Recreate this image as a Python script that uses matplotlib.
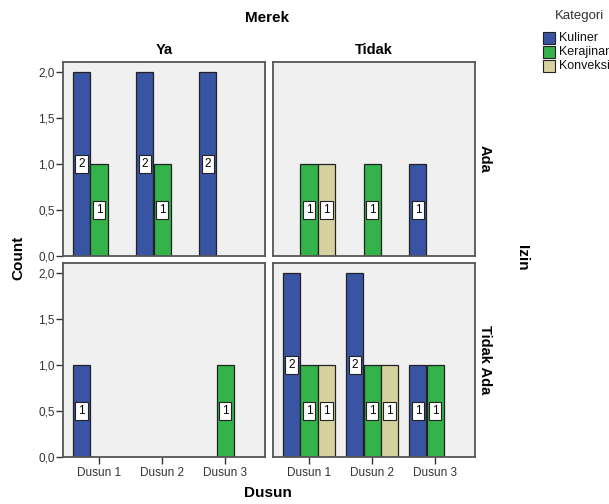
import matplotlib
matplotlib.use('Agg')
import matplotlib.pyplot as plt
import numpy as np

plt.rcParams['font.family'] = ['Liberation Sans', 'DejaVu Sans']

dusun = ['Dusun 1', 'Dusun 2', 'Dusun 3']
kategori = ['Kuliner', 'Kerajinan', 'Konveksi']
merek = ['Ya', 'Tidak']
izin = ['Ada', 'Tidak Ada']

# counts[izin][merek] -> list per kategori of counts per dusun
ada_ya = [[2, 2, 2], [1, 1, 0], [0, 0, 0]]
ada_tidak = [[0, 0, 1], [1, 1, 0], [1, 0, 0]]
tidakada_ya = [[1, 0, 0], [0, 0, 1], [0, 0, 0]]
tidakada_tidak = [[2, 2, 1], [1, 1, 1], [1, 1, 0]]
counts = [[ada_ya, ada_tidak], [tidakada_ya, tidakada_tidak]]

colors = ['#3a54a4', '#33b349', '#d6d19e']
yticks = [0.0, 0.5, 1.0, 1.5, 2.0]

W, H = 609, 504
fig = plt.figure(figsize=(W / 100, H / 100), dpi=100)

lefts = [63, 273]
tops = [62, 263]
pw, ph = 202, 194
width = 0.27
offsets = [-0.275, 0.0, 0.275]
x = np.arange(len(dusun))

for r in range(2):
    for c in range(2):
        ax = fig.add_axes([lefts[c] / W, (H - tops[r] - ph) / H, pw / W, ph / H])
        ax.set_facecolor('#f0f0f0')
        data = counts[r][c]
        for k in range(len(kategori)):
            for i in range(len(dusun)):
                v = data[k][i]
                if v == 0:
                    continue
                xi = x[i] + offsets[k]
                ax.bar(xi, v, width=width, color=colors[k], edgecolor='#222222',
                       linewidth=0.9, zorder=2)
                ax.text(xi, v / 2, str(v), ha='center', va='center', fontsize=8.5,
                        zorder=3,
                        bbox=dict(boxstyle='square,pad=0.25', fc='white',
                                  ec='#222222', lw=0.8))
        ax.set_xlim(-0.57, 2.63)
        ax.set_ylim(0, 2.11)
        for s in ax.spines.values():
            s.set_color('#555555')
            s.set_linewidth(1.3)
        ax.set_yticks(yticks)
        ax.set_xticks(x)
        if c == 0:
            ax.set_yticklabels([f'{t:.1f}'.replace('.', ',') for t in yticks],
                               fontsize=8.5, color='#333333')
            ax.tick_params(axis='y', length=5, width=1, color='#333333', pad=1)
        else:
            ax.tick_params(axis='y', left=False, labelleft=False)
        if r == 1:
            ax.set_xticklabels(dusun, fontsize=8.5, color='#333333')
            ax.tick_params(axis='x', length=5, width=1, color='#333333', pad=2)
        else:
            ax.tick_params(axis='x', bottom=False, labelbottom=False)
        if r == 0:
            ax.set_title(merek[c], fontsize=10.5, fontweight='bold', pad=6)
        if c == 1:
            ax.text(1.05, 0.5, izin[r], transform=ax.transAxes, rotation=-90,
                    ha='center', va='center', fontsize=10.5, fontweight='bold')

fig.text(267 / W, 1 - 18 / H, 'Merek', ha='center', va='center',
         fontsize=11, fontweight='bold')
fig.text(268 / W, 1 - 493 / H, 'Dusun', ha='center', va='center',
         fontsize=11, fontweight='bold')
fig.text(18 / W, 1 - 258 / H, 'Count', ha='center', va='center',
         rotation=90, fontsize=11, fontweight='bold')
fig.text(522 / W, 1 - 258 / H, 'Izin', ha='center', va='center',
         rotation=-90, fontsize=11, fontweight='bold')

# legend
fig.text(580 / W, 1 - 16 / H, 'Kategori', ha='center', va='center',
         fontsize=9.5, color='#333333')
for k, name in enumerate(kategori):
    yy = 1 - (38 + k * 14) / H
    fig.patches.append(plt.Rectangle((543 / W, yy - 6 / H), 12 / W, 12 / H,
                                     transform=fig.transFigure, fc=colors[k],
                                     ec='#222222', lw=0.8))
    fig.text(559 / W, yy, name, ha='left', va='center', fontsize=9,
             color='#111111')

fig.savefig('out.png', dpi=100)
